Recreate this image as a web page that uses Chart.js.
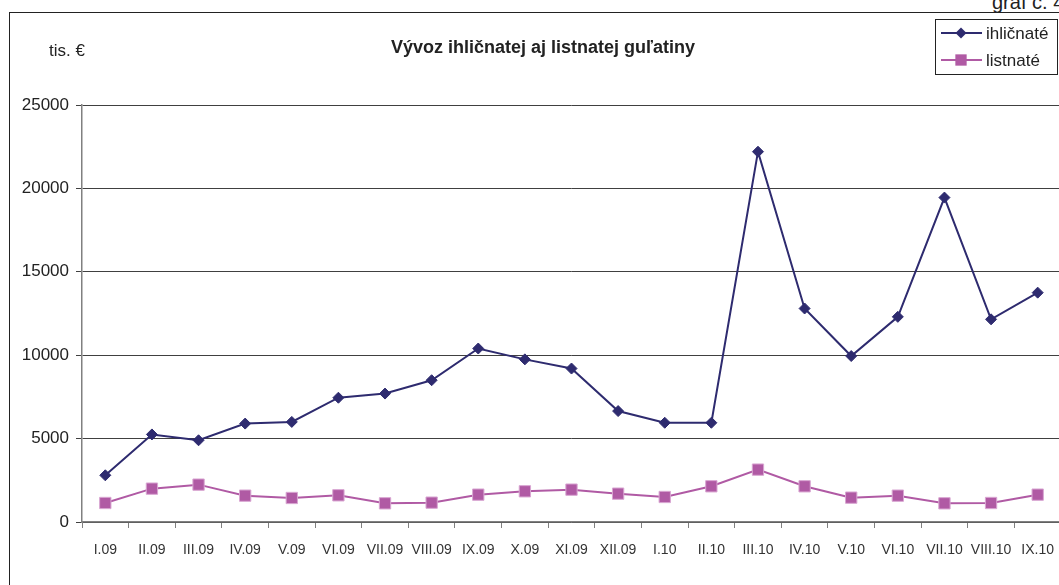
<!DOCTYPE html>
<html>
<head>
<meta charset="utf-8">
<script src="https://cdn.jsdelivr.net/npm/chart.js@4"></script>
<style>
  html, body { margin: 0; padding: 0; background: #fff; overflow: hidden; }
  #wrap { position: relative; width: 1059px; height: 585px; overflow: hidden; }
  #frame { position: absolute; left: 9px; top: 12px; width: 1100px; height: 600px;
           border-left: 1px solid #222; border-top: 1px solid #222; }
  #graf { position: absolute; left: 992px; top: -9px; font: 20px/22px "Liberation Sans", Arial, sans-serif; color: #222; white-space: nowrap; }
  #c { position: absolute; left: 0; top: 0; }
</style>
</head>
<body>
<div id="wrap">
  <div id="frame"></div>
  <div id="graf">graf č. 4</div>
  <canvas id="c" width="1070" height="585"></canvas>
</div>
<script>
// mesiace
const months = ['I.09','II.09','III.09','IV.09','V.09','VI.09','VII.09','VIII.09','IX.09','X.09','XI.09','XII.09',
                'I.10','II.10','III.10','IV.10','V.10','VI.10','VII.10','VIII.10','IX.10'];
// tis. €
const ihlicnate = [2800, 5250, 4900, 5900, 6000, 7450, 7700, 8500, 10400, 9750, 9200, 6650,
                   5950, 5950, 22200, 12800, 9950, 12300, 19450, 12150, 13750];
const listnate = [1140, 2000, 2240, 1580, 1440, 1600, 1120, 1160, 1640, 1840, 1940, 1700,
                  1500, 2140, 3140, 2140, 1460, 1580, 1120, 1140, 1640];
const yTicks = [0, 5000, 10000, 15000, 20000, 25000];

const navy = '#2E2B6F';
const pink = '#B05AA4';

// nadpis, jednotka a legenda
const extras = {
  id: 'extras',
  afterDraw(chart) {
    const ctx = chart.ctx;
    ctx.save();
    ctx.fillStyle = '#222';
    ctx.textBaseline = 'middle';
    ctx.textAlign = 'center';
    ctx.font = 'bold 18px "Liberation Sans", Arial, sans-serif';
    ctx.fillText('Vývoz ihličnatej aj listnatej guľatiny', 543, 48);
    ctx.font = '17px "Liberation Sans", Arial, sans-serif';
    ctx.fillText('tis. €', 67, 51);

    // legenda
    ctx.strokeStyle = '#222';
    ctx.lineWidth = 1;
    ctx.strokeRect(935.5, 19.5, 122, 55);
    const rows = [
      {label: 'ihličnaté', color: navy, y: 33, style: 'rectRot', r: 5.5},
      {label: 'listnaté', color: pink, y: 60, style: 'rect', r: 8}
    ];
    rows.forEach(function(row) {
      ctx.strokeStyle = row.color;
      ctx.lineWidth = 2;
      ctx.beginPath();
      ctx.moveTo(941, row.y);
      ctx.lineTo(982, row.y);
      ctx.stroke();
      ctx.fillStyle = row.color;
      Chart.helpers.drawPoint(ctx, {pointStyle: row.style, radius: row.r, borderWidth: 0}, 961, row.y);
      ctx.fillStyle = '#222';
      ctx.textAlign = 'left';
      ctx.font = '17px "Liberation Sans", Arial, sans-serif';
      ctx.fillText(row.label, 986, row.y + 1);
    });
    ctx.restore();
  }
};

new Chart(document.getElementById('c'), {
  type: 'line',
  data: {
    labels: months,
    datasets: [
      {
        label: 'ihličnaté',
        data: ihlicnate,
        borderColor: navy,
        backgroundColor: navy,
        borderWidth: 2,
        pointStyle: 'rectRot',
        pointRadius: 5.5,
        pointBorderWidth: 1,
        pointBorderColor: navy,
        tension: 0
      },
      {
        label: 'listnaté',
        data: listnate,
        borderColor: pink,
        backgroundColor: pink,
        borderWidth: 2,
        pointStyle: 'rect',
        pointRadius: 8,
        pointBorderWidth: 1,
        pointBorderColor: '#D9A6D2',
        tension: 0
      }
    ]
  },
  options: {
    responsive: false,
    animation: false,
    layout: { padding: { top: 105, left: 0, right: 9, bottom: 0 } },
    plugins: { legend: { display: false }, title: { display: false }, tooltip: { enabled: false } },
    scales: {
      x: {
        offset: true,
        afterFit(scale) { scale.height = 63; },
        grid: { offset: true, drawOnChartArea: false, drawTicks: true, tickLength: 6, color: '#808080' },
        border: { color: '#808080', width: 1.5 },
        ticks: {
          color: '#333',
          maxRotation: 0,
          autoSkip: false,
          padding: 14,
          font: { family: '"Liberation Sans Narrow", "Liberation Sans", Arial, sans-serif', size: 14 }
        }
      },
      y: {
        min: 0,
        max: 25000,
        afterFit(scale) { scale.width = 82; },
        afterBuildTicks(scale) { scale.ticks = yTicks.map(function(v) { return {value: v}; }); },
        grid: { color: '#404040', lineWidth: 1, tickLength: 6 },
        border: { color: '#808080', width: 1.5 },
        ticks: {
          color: '#222',
          padding: 7,
          callback: function(v) { return String(v); },
          font: { family: '"Liberation Sans", Arial, sans-serif', size: 17 }
        }
      }
    }
  },
  plugins: [extras]
});
</script>
</body>
</html>
